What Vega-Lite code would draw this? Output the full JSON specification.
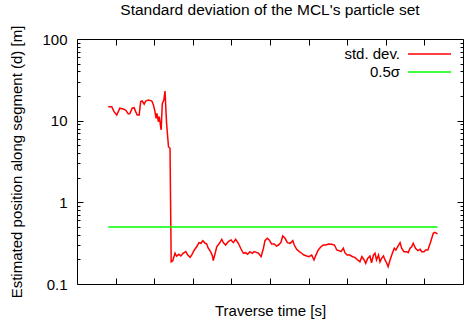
{
  "$schema": "https://vega.github.io/schema/vega-lite/v6.json",
  "width": 386,
  "height": 245,
  "autosize": {"type": "none"},
  "padding": {"left": 77, "top": 39, "right": 1, "bottom": 37},
  "background": "white",
  "title": {
    "text": "Standard deviation of the MCL's particle set",
    "font": "Liberation Sans",
    "fontSize": 15.5,
    "fontWeight": "normal",
    "color": "#000",
    "anchor": "middle",
    "frame": "group",
    "baseline": "alphabetic",
    "offset": -5
  },
  "config": {
    "font": "Liberation Sans",
    "view": {"stroke": "#000", "strokeWidth": 1},
    "axis": {
      "domain": false,
      "grid": false,
      "tickColor": "#000",
      "tickWidth": 1,
      "labelFont": "Liberation Sans",
      "labelFontSize": 15,
      "labelColor": "#000",
      "titleFont": "Liberation Sans",
      "titleFontSize": 15,
      "titleFontWeight": "normal",
      "titleColor": "#000",
      "labelFlush": false,
      "labelOverlap": false
    },
    "legend": {
      "labelFont": "Liberation Sans",
      "labelFontSize": 15,
      "labelColor": "#000"
    }
  },
  "datasets": {
    "d": [
      {"t": 8.1, "v": 14.8, "s": "std. dev."},
      {"t": 9.0, "v": 14.8, "s": "std. dev."},
      {"t": 9.6, "v": 12.9, "s": "std. dev."},
      {"t": 10.3, "v": 11.7, "s": "std. dev."},
      {"t": 11.1, "v": 14.2, "s": "std. dev."},
      {"t": 12.0, "v": 13.9, "s": "std. dev."},
      {"t": 12.6, "v": 13.5, "s": "std. dev."},
      {"t": 13.3, "v": 12.1, "s": "std. dev."},
      {"t": 13.7, "v": 12.2, "s": "std. dev."},
      {"t": 14.3, "v": 14.2, "s": "std. dev."},
      {"t": 14.8, "v": 14.4, "s": "std. dev."},
      {"t": 15.2, "v": 12.9, "s": "std. dev."},
      {"t": 15.6, "v": 11.7, "s": "std. dev."},
      {"t": 16.1, "v": 11.7, "s": "std. dev."},
      {"t": 16.5, "v": 17.1, "s": "std. dev."},
      {"t": 16.9, "v": 17.4, "s": "std. dev."},
      {"t": 17.4, "v": 15.9, "s": "std. dev."},
      {"t": 17.8, "v": 17.4, "s": "std. dev."},
      {"t": 18.5, "v": 17.9, "s": "std. dev."},
      {"t": 19.4, "v": 17.4, "s": "std. dev."},
      {"t": 19.8, "v": 15.6, "s": "std. dev."},
      {"t": 20.2, "v": 12.9, "s": "std. dev."},
      {"t": 20.5, "v": 10.7, "s": "std. dev."},
      {"t": 20.7, "v": 12.3, "s": "std. dev."},
      {"t": 21.1, "v": 9.7, "s": "std. dev."},
      {"t": 21.3, "v": 11.2, "s": "std. dev."},
      {"t": 21.8, "v": 7.7, "s": "std. dev."},
      {"t": 22.1, "v": 16.3, "s": "std. dev."},
      {"t": 22.5, "v": 17.9, "s": "std. dev."},
      {"t": 22.8, "v": 23.1, "s": "std. dev."},
      {"t": 23.2, "v": 9.4, "s": "std. dev."},
      {"t": 23.7, "v": 4.8, "s": "std. dev."},
      {"t": 24.1, "v": 4.6, "s": "std. dev."},
      {"t": 24.4, "v": 0.187, "s": "std. dev."},
      {"t": 24.8, "v": 0.193, "s": "std. dev."},
      {"t": 25.4, "v": 0.238, "s": "std. dev."},
      {"t": 25.8, "v": 0.22, "s": "std. dev."},
      {"t": 26.4, "v": 0.231, "s": "std. dev."},
      {"t": 26.9, "v": 0.22, "s": "std. dev."},
      {"t": 27.5, "v": 0.238, "s": "std. dev."},
      {"t": 28.2, "v": 0.249, "s": "std. dev."},
      {"t": 28.7, "v": 0.226, "s": "std. dev."},
      {"t": 29.3, "v": 0.212, "s": "std. dev."},
      {"t": 29.7, "v": 0.226, "s": "std. dev."},
      {"t": 30.4, "v": 0.261, "s": "std. dev."},
      {"t": 31.0, "v": 0.286, "s": "std. dev."},
      {"t": 31.6, "v": 0.321, "s": "std. dev."},
      {"t": 32.1, "v": 0.315, "s": "std. dev."},
      {"t": 32.6, "v": 0.339, "s": "std. dev."},
      {"t": 33.2, "v": 0.315, "s": "std. dev."},
      {"t": 33.6, "v": 0.309, "s": "std. dev."},
      {"t": 34.0, "v": 0.274, "s": "std. dev."},
      {"t": 34.6, "v": 0.249, "s": "std. dev."},
      {"t": 35.1, "v": 0.22, "s": "std. dev."},
      {"t": 35.3, "v": 0.193, "s": "std. dev."},
      {"t": 35.8, "v": 0.238, "s": "std. dev."},
      {"t": 36.2, "v": 0.286, "s": "std. dev."},
      {"t": 36.9, "v": 0.315, "s": "std. dev."},
      {"t": 37.5, "v": 0.353, "s": "std. dev."},
      {"t": 37.9, "v": 0.321, "s": "std. dev."},
      {"t": 38.5, "v": 0.3, "s": "std. dev."},
      {"t": 39.2, "v": 0.33, "s": "std. dev."},
      {"t": 39.9, "v": 0.346, "s": "std. dev."},
      {"t": 40.5, "v": 0.321, "s": "std. dev."},
      {"t": 41.1, "v": 0.353, "s": "std. dev."},
      {"t": 41.8, "v": 0.315, "s": "std. dev."},
      {"t": 42.4, "v": 0.274, "s": "std. dev."},
      {"t": 43.1, "v": 0.238, "s": "std. dev."},
      {"t": 43.7, "v": 0.242, "s": "std. dev."},
      {"t": 44.2, "v": 0.231, "s": "std. dev."},
      {"t": 44.8, "v": 0.249, "s": "std. dev."},
      {"t": 45.4, "v": 0.238, "s": "std. dev."},
      {"t": 45.9, "v": 0.249, "s": "std. dev."},
      {"t": 46.6, "v": 0.242, "s": "std. dev."},
      {"t": 47.0, "v": 0.238, "s": "std. dev."},
      {"t": 47.7, "v": 0.216, "s": "std. dev."},
      {"t": 48.3, "v": 0.274, "s": "std. dev."},
      {"t": 48.7, "v": 0.339, "s": "std. dev."},
      {"t": 49.3, "v": 0.363, "s": "std. dev."},
      {"t": 49.8, "v": 0.346, "s": "std. dev."},
      {"t": 50.4, "v": 0.309, "s": "std. dev."},
      {"t": 51.1, "v": 0.309, "s": "std. dev."},
      {"t": 51.7, "v": 0.292, "s": "std. dev."},
      {"t": 52.2, "v": 0.3, "s": "std. dev."},
      {"t": 52.8, "v": 0.321, "s": "std. dev."},
      {"t": 53.3, "v": 0.387, "s": "std. dev."},
      {"t": 53.9, "v": 0.363, "s": "std. dev."},
      {"t": 54.5, "v": 0.321, "s": "std. dev."},
      {"t": 55.2, "v": 0.315, "s": "std. dev."},
      {"t": 55.9, "v": 0.339, "s": "std. dev."},
      {"t": 56.3, "v": 0.3, "s": "std. dev."},
      {"t": 56.9, "v": 0.266, "s": "std. dev."},
      {"t": 57.6, "v": 0.249, "s": "std. dev."},
      {"t": 58.2, "v": 0.238, "s": "std. dev."},
      {"t": 58.8, "v": 0.226, "s": "std. dev."},
      {"t": 59.5, "v": 0.22, "s": "std. dev."},
      {"t": 60.1, "v": 0.216, "s": "std. dev."},
      {"t": 60.8, "v": 0.226, "s": "std. dev."},
      {"t": 61.4, "v": 0.197, "s": "std. dev."},
      {"t": 61.9, "v": 0.226, "s": "std. dev."},
      {"t": 62.5, "v": 0.261, "s": "std. dev."},
      {"t": 63.2, "v": 0.286, "s": "std. dev."},
      {"t": 63.8, "v": 0.3, "s": "std. dev."},
      {"t": 64.5, "v": 0.3, "s": "std. dev."},
      {"t": 65.1, "v": 0.309, "s": "std. dev."},
      {"t": 66.0, "v": 0.306, "s": "std. dev."},
      {"t": 66.7, "v": 0.3, "s": "std. dev."},
      {"t": 67.3, "v": 0.261, "s": "std. dev."},
      {"t": 67.9, "v": 0.256, "s": "std. dev."},
      {"t": 68.4, "v": 0.249, "s": "std. dev."},
      {"t": 69.0, "v": 0.274, "s": "std. dev."},
      {"t": 69.4, "v": 0.242, "s": "std. dev."},
      {"t": 70.0, "v": 0.226, "s": "std. dev."},
      {"t": 70.7, "v": 0.226, "s": "std. dev."},
      {"t": 71.4, "v": 0.216, "s": "std. dev."},
      {"t": 72.0, "v": 0.212, "s": "std. dev."},
      {"t": 72.7, "v": 0.197, "s": "std. dev."},
      {"t": 73.3, "v": 0.187, "s": "std. dev."},
      {"t": 73.8, "v": 0.216, "s": "std. dev."},
      {"t": 74.4, "v": 0.197, "s": "std. dev."},
      {"t": 74.8, "v": 0.179, "s": "std. dev."},
      {"t": 75.3, "v": 0.206, "s": "std. dev."},
      {"t": 75.9, "v": 0.22, "s": "std. dev."},
      {"t": 76.3, "v": 0.182, "s": "std. dev."},
      {"t": 76.8, "v": 0.226, "s": "std. dev."},
      {"t": 77.2, "v": 0.238, "s": "std. dev."},
      {"t": 77.6, "v": 0.197, "s": "std. dev."},
      {"t": 78.1, "v": 0.226, "s": "std. dev."},
      {"t": 78.5, "v": 0.187, "s": "std. dev."},
      {"t": 78.9, "v": 0.206, "s": "std. dev."},
      {"t": 79.4, "v": 0.22, "s": "std. dev."},
      {"t": 79.8, "v": 0.197, "s": "std. dev."},
      {"t": 80.2, "v": 0.182, "s": "std. dev."},
      {"t": 80.6, "v": 0.163, "s": "std. dev."},
      {"t": 81.1, "v": 0.197, "s": "std. dev."},
      {"t": 81.7, "v": 0.238, "s": "std. dev."},
      {"t": 82.2, "v": 0.274, "s": "std. dev."},
      {"t": 82.6, "v": 0.261, "s": "std. dev."},
      {"t": 83.1, "v": 0.286, "s": "std. dev."},
      {"t": 83.7, "v": 0.321, "s": "std. dev."},
      {"t": 84.1, "v": 0.274, "s": "std. dev."},
      {"t": 84.7, "v": 0.249, "s": "std. dev."},
      {"t": 85.4, "v": 0.249, "s": "std. dev."},
      {"t": 85.8, "v": 0.242, "s": "std. dev."},
      {"t": 86.3, "v": 0.274, "s": "std. dev."},
      {"t": 86.7, "v": 0.286, "s": "std. dev."},
      {"t": 87.1, "v": 0.315, "s": "std. dev."},
      {"t": 87.7, "v": 0.274, "s": "std. dev."},
      {"t": 88.3, "v": 0.256, "s": "std. dev."},
      {"t": 88.9, "v": 0.266, "s": "std. dev."},
      {"t": 89.3, "v": 0.249, "s": "std. dev."},
      {"t": 89.9, "v": 0.249, "s": "std. dev."},
      {"t": 90.3, "v": 0.261, "s": "std. dev."},
      {"t": 90.9, "v": 0.261, "s": "std. dev."},
      {"t": 91.5, "v": 0.315, "s": "std. dev."},
      {"t": 91.9, "v": 0.363, "s": "std. dev."},
      {"t": 92.3, "v": 0.418, "s": "std. dev."},
      {"t": 92.7, "v": 0.43, "s": "std. dev."},
      {"t": 93.4, "v": 0.41, "s": "std. dev."},
      {"t": 8.1, "v": 0.5, "s": "0.5σ"},
      {"t": 93.4, "v": 0.5, "s": "0.5σ"}
    ]
  },
  "data": {"name": "d"},
  "layer": [
    {
      "mark": {"type": "line", "strokeWidth": 1.5, "interpolate": "linear"},
      "encoding": {
        "x": {
          "field": "t", "type": "quantitative",
          "scale": {"domain": [0, 100], "nice": false, "zero": false},
          "axis": {
            "orient": "bottom",
            "values": [10, 20, 30, 40, 50, 60, 70, 80, 90],
            "labels": false,
            "tickSize": -6,
            "title": "Traverse time [s]",
            "titlePadding": 19
          }
        },
        "y": {
          "field": "v", "type": "quantitative",
          "scale": {"type": "log", "domain": [0.1, 100], "nice": false},
          "axis": {
            "orient": "left",
            "values": [0.1, 1, 10, 100],
            "format": "~g",
            "tickSize": -6,
            "labelPadding": 16,
            "title": "Estimated position along segment (d) [m]",
            "titlePadding": 17
          }
        },
        "color": {
          "field": "s", "type": "nominal",
          "scale": {"domain": ["std. dev.", "0.5σ"], "range": ["#ff0000", "#00ff00"]},
          "legend": {
            "title": null,
            "orient": "none",
            "legendX": 345,
            "legendY": 7.5,
            "padding": 0,
            "symbolType": "M-4.3,0H4.3",
            "symbolSize": 100,
            "symbolStrokeWidth": 1.5,
            "labelAlign": "right",
            "labelOffset": -37,
            "rowPadding": 2
          }
        }
      }
    },
    {
      "mark": {"type": "line", "opacity": 0},
      "encoding": {
        "x": {
          "field": "t", "type": "quantitative",
          "axis": {
            "orient": "top",
            "values": [10, 20, 30, 40, 50, 60, 70, 80, 90],
            "labels": false,
            "tickSize": -6,
            "title": null
          }
        },
        "y": {
          "field": "v", "type": "quantitative",
          "axis": {
            "orient": "right",
            "values": [0.1, 1, 10, 100],
            "labels": false,
            "tickSize": -6,
            "title": null
          }
        },
        "detail": {"field": "s"}
      }
    },
    {
      "mark": {"type": "line", "opacity": 0},
      "encoding": {
        "x": {"field": "t", "type": "quantitative", "axis": null},
        "y": {
          "field": "v", "type": "quantitative",
          "axis": {
            "orient": "left",
            "values": [0.2, 0.3, 0.4, 0.5, 0.6, 0.7, 0.8, 0.9, 2, 3, 4, 5, 6, 7, 8, 9, 20, 30, 40, 50, 60, 70, 80, 90],
            "labels": false,
            "tickSize": -3,
            "title": null
          }
        },
        "detail": {"field": "s"}
      }
    },
    {
      "mark": {"type": "line", "opacity": 0},
      "encoding": {
        "x": {"field": "t", "type": "quantitative", "axis": null},
        "y": {
          "field": "v", "type": "quantitative",
          "axis": {
            "orient": "right",
            "values": [0.2, 0.3, 0.4, 0.5, 0.6, 0.7, 0.8, 0.9, 2, 3, 4, 5, 6, 7, 8, 9, 20, 30, 40, 50, 60, 70, 80, 90],
            "labels": false,
            "tickSize": -3,
            "title": null
          }
        },
        "detail": {"field": "s"}
      }
    }
  ],
  "resolve": {"axis": {"x": "independent", "y": "independent"}}
}
